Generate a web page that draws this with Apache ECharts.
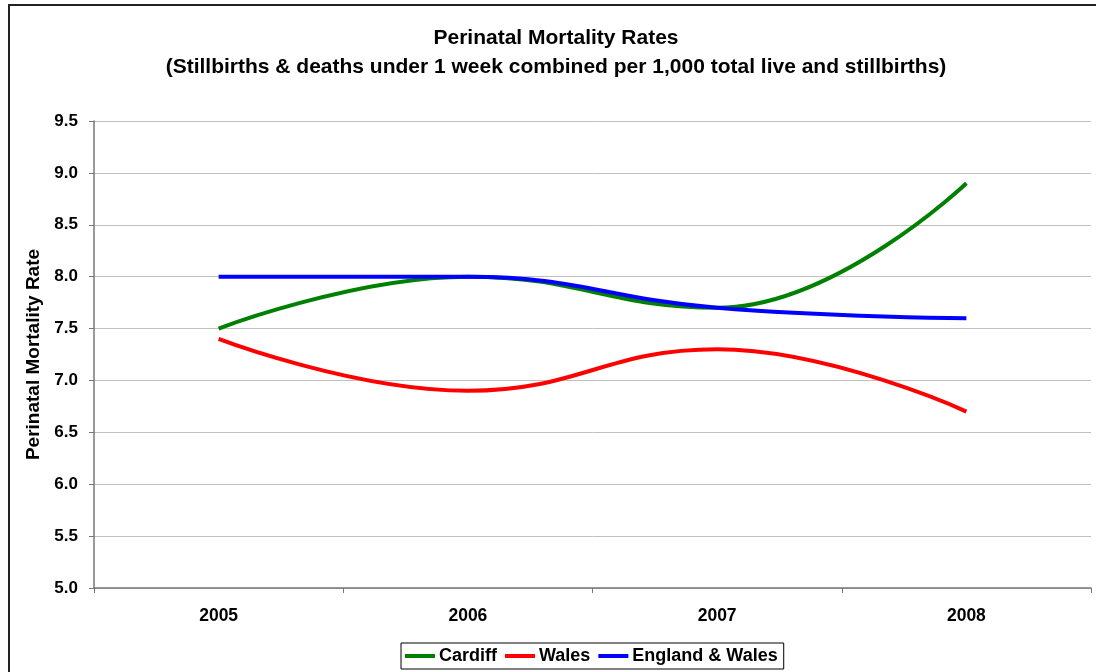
<!DOCTYPE html>
<html>
<head>
<meta charset="utf-8">
<script src="https://cdn.jsdelivr.net/npm/echarts@6/dist/echarts.min.js"></script>
<style>
  html, body { margin: 0; padding: 0; background: #fff; }
  #chart { width: 1096px; height: 672px; }
</style>
</head>
<body>
<div id="chart"></div>
<script>
// data
const years = ['2005', '2006', '2007', '2008'];
const cardiff = [7.5, 8.0, 7.7, 8.9];
const wales = [7.4, 6.9, 7.3, 6.7];
const englandWales = [8.0, 8.0, 7.7, 7.6];

const font = 'Liberation Sans, Arial, sans-serif';

let chart = echarts.init(document.getElementById('chart'));
chart.setOption({
    animation: false,
    textStyle: { fontFamily: font },
    title: {
        text: 'Perinatal Mortality Rates\n(Stillbirths & deaths under 1 week combined per 1,000 total live and stillbirths)',
        left: 551,
        textAlign: 'center',
        top: 19,
        textStyle: { fontSize: 21, fontWeight: 'bold', color: '#000', lineHeight: 29, fontFamily: font }
    },
    legend: {
        top: 643,
        left: 401,
        data: ['Cardiff', 'Wales', 'England & Wales'],
        icon: 'rect',
        itemWidth: 30,
        itemHeight: 4,
        itemGap: 8,
        padding: [4, 6, 4, 4],
        borderColor: '#000',
        borderWidth: 1,
        textStyle: { fontSize: 18, fontWeight: 'bold', color: '#000', fontFamily: font, padding: [0, 0, 0, -1] }
    },
    grid: { left: 94, right: 5, top: 121, bottom: 84 },
    xAxis: {
        type: 'category',
        data: years,
        boundaryGap: true,
        axisLine: { lineStyle: { color: '#777', width: 1.5 } },
        axisTick: { show: true, length: 5, lineStyle: { color: '#777' } },
        axisLabel: { fontSize: 17.5, fontWeight: 'bold', color: '#000', margin: 19 }
    },
    yAxis: {
        type: 'value',
        min: 5,
        max: 9.5,
        interval: 0.5,
        name: 'Perinatal Mortality Rate',
        nameLocation: 'middle',
        nameRotate: 90,
        nameGap: 48,
        nameTextStyle: { fontSize: 19, fontWeight: 'bold', color: '#000' },
        axisLine: { show: true, lineStyle: { color: '#777', width: 1.5 } },
        axisTick: { show: true, length: 5, lineStyle: { color: '#777' } },
        axisLabel: { fontSize: 17, fontWeight: 'bold', color: '#000', margin: 16,
            formatter: v => v.toFixed(1) },
        splitLine: { lineStyle: { color: '#c0c0c0' } }
    },
    series: [
        { name: 'Cardiff', type: 'line', data: cardiff, smooth: 0.45, symbol: 'none',
          color: '#008000', lineStyle: { width: 4 } },
        { name: 'Wales', type: 'line', data: wales, smooth: 0.45, symbol: 'none',
          color: '#ff0000', lineStyle: { width: 4 } },
        { name: 'England & Wales', type: 'line', data: englandWales, smooth: 0.45, symbol: 'none',
          color: '#0000ff', lineStyle: { width: 4 } }
    ],
    graphic: [
        { type: 'rect', shape: { x: 9, y: 5, width: 1100, height: 700 },
          style: { fill: 'none', stroke: '#222', lineWidth: 2 }, silent: true }
    ]
});
</script>
</body>
</html>
